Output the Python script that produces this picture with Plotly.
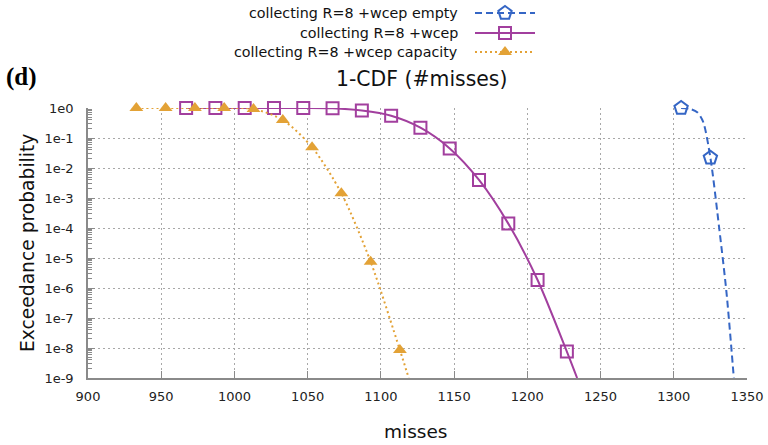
import plotly.graph_objects as go

W, H = 768, 445
L, R, T, B = 88, 747, 108, 378

# ---- data ----
empty_mx = [1305, 1325]
empty_my = [1.0, 0.022]
empty_lx = [1305, 1311, 1316, 1320, 1325, 1331, 1336, 1341]
empty_ly = [1.0, 0.93, 0.72, 0.35, 0.022, 1.0e-4, 7.0e-7, 1.0e-9]

wcep_mx = [967, 987, 1007, 1027, 1047, 1067, 1087, 1107, 1127, 1147, 1167, 1187, 1207, 1227]
wcep_my = [1.0, 1.0, 1.0, 1.0, 1.0, 0.98, 0.82, 0.55, 0.22, 0.045, 4.0e-3, 1.4e-4, 1.85e-6, 7.6e-9]
wcep_lx = wcep_mx + [1234]
wcep_ly = wcep_my + [1.0e-9]

cap_mx = [933, 953, 973, 993, 1013, 1033, 1053, 1073, 1093, 1113]
cap_my = [1.0, 1.0, 1.0, 1.0, 0.93, 0.4, 0.049, 1.44e-3, 7.5e-6, 8.5e-9]
cap_lx = cap_mx + [1119]
cap_ly = cap_my + [1.0e-9]

names = ["collecting R=8 +wcep empty", "collecting R=8 +wcep", "collecting R=8 +wcep capacity"]
ytick_vals = [10.0 ** -k for k in range(0, 10)]
ytick_text = ["1e0"] + ["1e-%d" % k for k in range(1, 10)]
xtick_vals = list(range(900, 1351, 50))

BLUE = "#3566c5"
PURPLE = "#a23f9e"
ORANGE = "#e3a236"
GRID = "#a8a8a8"
AXIS = "#8a8a8a"
FONT = "DejaVu Sans"

fig = go.Figure()

styles = [
    (empty_lx, empty_ly, empty_mx, empty_my, BLUE, "7px,4px",
     dict(symbol="pentagon-open", size=14, color=BLUE, line=dict(width=2, color=BLUE))),
    (wcep_lx, wcep_ly, wcep_mx, wcep_my, PURPLE, "solid",
     dict(symbol="square-open", size=12, color=PURPLE, line=dict(width=2, color=PURPLE))),
    (cap_lx, cap_ly, cap_mx, cap_my, ORANGE, "2px,3px",
     dict(symbol="triangle-up", size=12, color=ORANGE, line=dict(width=0))),
]

for lx, ly, mx, my, col, dash, mk in styles:
    fig.add_trace(go.Scatter(x=lx, y=ly, mode="lines", line=dict(color=col, width=2, dash=dash, shape="spline", smoothing=0.8),
                             showlegend=False, hoverinfo="skip"))
    fig.add_trace(go.Scatter(x=mx, y=my, mode="markers", marker=mk, cliponaxis=False, showlegend=False))

# ---- manual legend (text left, sample right) on a pixel overlay axis ----
leg_rows = [13, 33, 52]
for (lx, ly, mx, my, col, dash, mk), name, yy in zip(styles, names, leg_rows):
    fig.add_trace(go.Scatter(x=[475, 535], y=[yy, yy], xaxis="x2", yaxis="y2", mode="lines",
                             line=dict(color=col, width=2, dash=dash), showlegend=False, hoverinfo="skip"))
    fig.add_trace(go.Scatter(x=[505], y=[yy], xaxis="x2", yaxis="y2", mode="markers",
                             marker=mk, showlegend=False, hoverinfo="skip", cliponaxis=False))
    fig.add_annotation(x=460 / W, y=1 - yy / H, xref="paper", yref="paper", text=name,
                       showarrow=False, xanchor="right", yanchor="middle",
                       font=dict(family=FONT, size=14.3, color="#111111"))

fig.update_layout(
    template="none",
    width=W, height=H,
    margin=dict(l=0, r=0, t=0, b=0, pad=0, autoexpand=False),
    paper_bgcolor="white", plot_bgcolor="rgba(0,0,0,0)",
    showlegend=False,
    xaxis=dict(domain=[L / W, R / W], range=[900, 1350], tickmode="array", tickvals=xtick_vals,
               automargin=False,
               showgrid=True, gridcolor=GRID, griddash="2px,3px", gridwidth=1,
               showline=True, linecolor=AXIS, linewidth=1.5, mirror=False,
               ticks="inside", ticklen=7, tickcolor=AXIS, tickwidth=1,
               tickfont=dict(family=FONT, size=13, color="#222222"),
               ticklabelstandoff=6, zeroline=False, anchor="y"),
    yaxis=dict(domain=[1 - B / H, 1 - T / H], type="log", range=[-9, 0],
               automargin=False,
               tickmode="array", tickvals=ytick_vals, ticktext=ytick_text,
               showgrid=True, gridcolor=GRID, griddash="2px,3px", gridwidth=1,
               showline=True, linecolor=AXIS, linewidth=1.5,
               ticks="inside", ticklen=7, tickcolor=AXIS, tickwidth=1,
               minor=dict(ticks="inside", ticklen=4, tickcolor=AXIS, dtick="D1", showgrid=False),
               tickfont=dict(family=FONT, size=13, color="#222222"),
               ticklabelstandoff=10, zeroline=False, anchor="x"),
    xaxis2=dict(domain=[0, 1], range=[0, W], visible=False, anchor="y2", fixedrange=True, automargin=False),
    yaxis2=dict(domain=[0, 1], range=[H, 0], visible=False, anchor="x2", fixedrange=True, automargin=False),
)

fig.add_annotation(x=21 / W, y=1 - 77 / H, xref="paper", yref="paper", text="<b>(d)</b>",
                   showarrow=False, xanchor="center", yanchor="middle",
                   font=dict(family="Liberation Serif", size=25, color="#000000"))
fig.add_annotation(x=421 / W, y=1 - 79 / H, xref="paper", yref="paper", text="1-CDF (#misses)",
                   showarrow=False, xanchor="center", yanchor="middle",
                   font=dict(family=FONT, size=20.4, color="#111111"))
fig.add_annotation(x=415 / W, y=1 - 431 / H, xref="paper", yref="paper", text="misses",
                   showarrow=False, xanchor="center", yanchor="middle",
                   font=dict(family=FONT, size=18.5, color="#111111"))
fig.add_annotation(x=27 / W, y=1 - 243 / H, xref="paper", yref="paper", text="Exceedance probability",
                   showarrow=False, xanchor="center", yanchor="middle", textangle=-90,
                   font=dict(family=FONT, size=18.7, color="#111111"))

fig.write_html("out.html", config={"displayModeBar": False},
               post_script="document.body.style.margin='0px';")
